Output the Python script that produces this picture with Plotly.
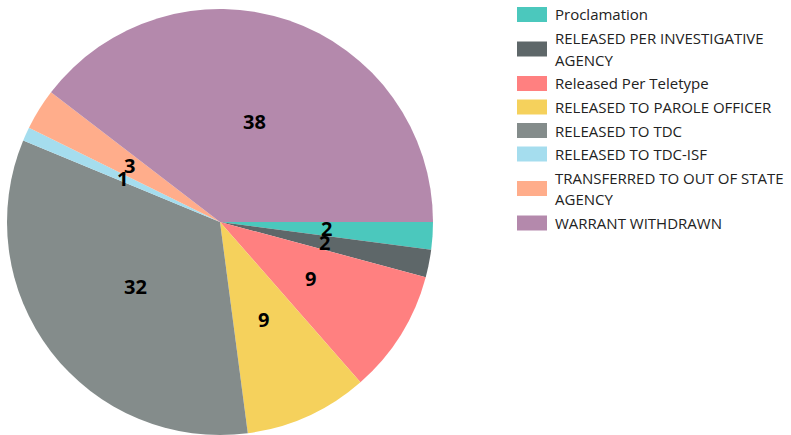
import math
import textwrap
import plotly.graph_objects as go

W, H = 791, 435

labels = [
    "Proclamation",
    "RELEASED PER INVESTIGATIVE AGENCY",
    "Released Per Teletype",
    "RELEASED TO PAROLE OFFICER",
    "RELEASED TO TDC",
    "RELEASED TO TDC-ISF",
    "TRANSFERRED TO OUT OF STATE AGENCY",
    "WARRANT WITHDRAWN",
]
values = [2, 2, 9, 9, 32, 1, 3, 38]
colors = ["#4BC8BD", "#5E6769", "#FF8080", "#F5D15C",
          "#848C8B", "#A5DDEE", "#FFAD8B", "#B489AC"]

# pie geometry (pixels)
cx, cy, r = 220, 222, 213
dom_x = [(cx - r) / W, (cx + r) / W]
dom_y = [(H - cy - r) / H, (H - cy + r) / H]

fig = go.Figure(go.Pie(
    labels=labels, values=values, sort=False, direction="clockwise",
    rotation=90, textinfo="none", hoverinfo="label+value",
    marker=dict(colors=colors, line=dict(width=0)),
    domain=dict(x=dom_x, y=dom_y), showlegend=False,
))

annotations = []
shapes = []

# value labels at half radius, from cumulative values
total = sum(values)
cum = 0
for v in values:
    mid = (cum + v / 2) / total * 2 * math.pi
    cum += v
    px = cx + 0.5 * r * math.cos(mid)
    py = cy + 0.5 * r * math.sin(mid)
    annotations.append(dict(
        x=px / W, y=1 - py / H, xref="paper", yref="paper",
        text=f"<b>{v}</b>", showarrow=False,
        font=dict(family="Open Sans", size=20, color="#000000"),
        xanchor="center", yanchor="middle"))

# custom legend
lx0, lx1, tx = 517, 547, 553
y = 14.5
for lab, col in zip(labels, colors):
    lines = textwrap.wrap(lab, 27)
    n = len(lines)
    centre = y + 22 * (n - 1) / 2
    shapes.append(dict(type="rect", xref="paper", yref="paper",
                       x0=lx0 / W, x1=lx1 / W,
                       y0=1 - (centre - 7.5) / H, y1=1 - (centre + 7.5) / H,
                       fillcolor=col, line=dict(width=0)))
    for i, ln in enumerate(lines):
        annotations.append(dict(
            x=tx / W, y=1 - (y + 22 * i) / H, xref="paper", yref="paper",
            text=ln, showarrow=False, xanchor="left", yanchor="middle",
            font=dict(family="Open Sans", size=15, color="#222222")))
    y += 22 * (n - 1) + 23.5

fig.update_layout(
    width=W, height=H, margin=dict(l=0, r=0, t=0, b=0),
    paper_bgcolor="white", plot_bgcolor="white",
    annotations=annotations, shapes=shapes,
)

fig.write_html("out.html", config={"displayModeBar": False},
               post_script="document.body.style.margin='0';")
